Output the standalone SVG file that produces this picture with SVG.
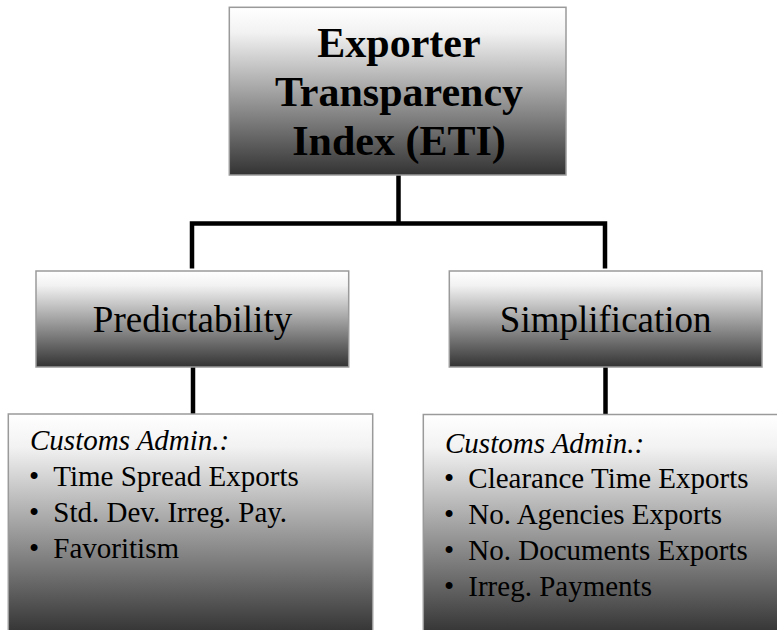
<svg xmlns="http://www.w3.org/2000/svg" width="777" height="630" viewBox="0 0 777 630">
<defs>
<linearGradient id="g" x1="0" y1="0" x2="0" y2="1">
<stop offset="0" stop-color="#ffffff"/>
<stop offset="0.15" stop-color="#f2f2f2"/>
<stop offset="1" stop-color="#333333"/>
</linearGradient>
</defs>
<style>
.box{fill:url(#g);stroke:#9a9a9a;stroke-width:1.5}
.t{font-family:"Liberation Serif","Times New Roman",serif;fill:#000}
.title{font-size:42px;font-weight:bold;text-anchor:middle}
.mid{font-size:37px;text-anchor:middle}
.item{font-size:29px}
.it{font-style:italic}
.conn{stroke:#000;stroke-width:4.5;fill:none}
</style>
<rect width="777" height="630" fill="#fff"/>
<g id="connectors">
<path class="conn" d="M398.5 175 V223.5"/>
<path class="conn" d="M192 268.5 V223.5 H605 V268.5"/>
<path class="conn" d="M193 367 V414"/>
<path class="conn" d="M605.5 367 V414"/>
</g>
<g id="eti">
<rect class="box" x="229.3" y="7.3" width="336.7" height="167.7"/>
<text class="t title" x="399" y="56.7">Exporter</text>
<text class="t title" x="399" y="106">Transparency</text>
<text class="t title" x="399" y="155">Index (ETI)</text>
</g>
<g id="predictability">
<rect class="box" x="36" y="271" width="312.7" height="96"/>
<text class="t mid" x="192.5" y="331.7">Predictability</text>
</g>
<g id="simplification">
<rect class="box" x="449.3" y="271" width="312.7" height="96"/>
<text class="t mid" x="605.7" y="331.7">Simplification</text>
</g>
<g id="pred-details">
<rect class="box" x="8.3" y="414" width="364.4" height="220"/>
<text class="t item it" x="30" y="450">Customs Admin.:</text>
<text class="t item" x="29" y="486">•</text><text class="t item" x="53.3" y="486">Time Spread Exports</text>
<text class="t item" x="29" y="522">•</text><text class="t item" x="53.3" y="522">Std. Dev. Irreg. Pay.</text>
<text class="t item" x="29" y="558">•</text><text class="t item" x="53.3" y="558">Favoritism</text>
</g>
<g id="simp-details">
<rect class="box" x="423.3" y="414.5" width="360" height="220"/>
<text class="t item it" x="445" y="452.5">Customs Admin.:</text>
<text class="t item" x="444" y="488.3">•</text><text class="t item" x="468.3" y="488.3">Clearance Time Exports</text>
<text class="t item" x="444" y="524">•</text><text class="t item" x="468.3" y="524">No. Agencies Exports</text>
<text class="t item" x="444" y="560">•</text><text class="t item" x="468.3" y="560">No. Documents Exports</text>
<text class="t item" x="444" y="596">•</text><text class="t item" x="468.3" y="596">Irreg. Payments</text>
</g>
</svg>
